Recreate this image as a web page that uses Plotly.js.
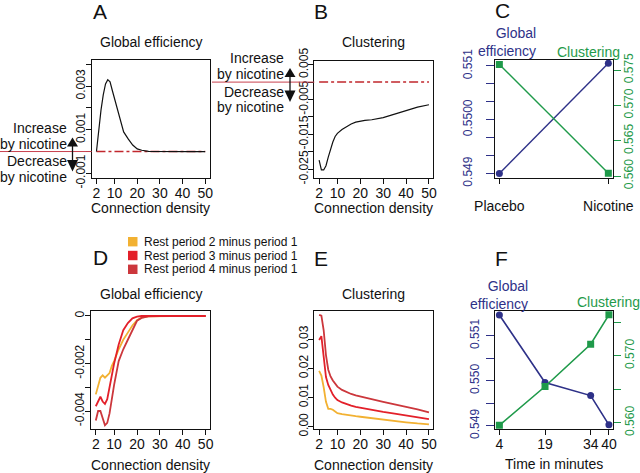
<!DOCTYPE html>
<html>
<head>
<meta charset="utf-8">
<script src="https://cdn.plot.ly/plotly-3.0.1.min.js"></script>
<style>
  body { margin: 0; background: #fff; }
  #fig { width: 640px; height: 473px; }
</style>
</head>
<body>
<div id="fig"></div>
<script>
// connection density (%) used in A, B, D, E
const density = [2, 3, 4, 5, 6, 7, 8, 9, 10, 12, 14, 16, 18, 20, 22, 25, 30, 35, 40, 45, 50];

// A: global efficiency, nicotine minus placebo
const effDiff = [0, 0.0011, 0.0019, 0.0026, 0.0031, 0.0033, 0.0032, 0.0028, 0.0024, 0.0016, 0.0009,
                 0.00058, 0.0003, 0.00012, 0.00006, 0.00001, 0, 0, 0, 0, 0];
// B: clustering, nicotine minus placebo
const clustDiff = [-0.0224, -0.0252, -0.0252, -0.0240, -0.0215, -0.0190, -0.0172, -0.0156, -0.0147, -0.0136, -0.0127,
                   -0.0120, -0.0115, -0.0112, -0.0110, -0.0108, -0.0102, -0.0092, -0.0082, -0.0072, -0.0065];
const zeroX = [2, 50];
const zeroY = [0, 0];

// C: placebo vs nicotine
const conditions = ['Placebo', 'Nicotine'];
const effCond = [0.549, 0.55105];
const clustCond = [0.5758, 0.5604];

// D / E: rest periods minus period 1
const restNames = ['Rest period 2 minus period 1', 'Rest period 3 minus period 1', 'Rest period 4 minus period 1'];
const restColors = ['#F2B132', '#E3202A', '#CC373C'];
const effRest2 = [-0.0033, -0.0029, -0.0026, -0.0025, -0.0026, -0.0025, -0.0024, -0.0021, -0.0019, -0.0014, -0.0010,
                  -0.0007, -0.0004, -0.00018, -0.00007, -0.00002, 0, 0, 0, 0, 0];
const effRest3 = [-0.0038, -0.0036, -0.0034, -0.0036, -0.0037, -0.0035, -0.0030, -0.0025, -0.0020, -0.0012, -0.0006,
                  -0.0003, -0.0001, -0.00003, 0, 0, 0, 0, 0, 0, 0];
const effRest4 = [-0.0044, -0.0040, -0.0040, -0.0043, -0.0046, -0.0045, -0.0041, -0.0035, -0.0029, -0.0019, -0.0014,
                  -0.0010, -0.0006, -0.0002, -0.00008, -0.00002, 0, 0, 0, 0, 0];
const clustRest2 = [0.0191, 0.0175, 0.0135, 0.0085, 0.0061, 0.0061, 0.0058, 0.0051, 0.0046, 0.0043, 0.0040,
                    0.0038, 0.0036, 0.0034, 0.0032, 0.0029, 0.0023, 0.0019, 0.0015, 0.0011, 0.0008];
const clustRest3 = [0.0297, 0.0310, 0.0240, 0.0170, 0.0143, 0.0123, 0.0110, 0.0099, 0.0091, 0.0083, 0.0077,
                    0.0072, 0.0068, 0.0065, 0.0062, 0.0057, 0.0051, 0.0045, 0.0038, 0.0032, 0.0026];
const clustRest4 = [0.0383, 0.0380, 0.0330, 0.0245, 0.0195, 0.0172, 0.0158, 0.0146, 0.0137, 0.0126, 0.0118,
                    0.0112, 0.0107, 0.0103, 0.0099, 0.0094, 0.0085, 0.0076, 0.0068, 0.0059, 0.0049];

// F: over time
const minutes = [4, 19, 34, 40];
const effTime = [0.55146, 0.54996, 0.54967, 0.54902];
const clustTime = [0.5596, 0.5654, 0.5717, 0.5761];

// tick labels
const densityTicks = [2, 10, 20, 30, 40, 50];
const ticksA = [-0.001, 0, 0.001, 0.002, 0.003, 0.004];
const labelsA = ['-0.001', '', '0.001', '', '0.003', ''];
const ticksB = [-0.025, -0.02, -0.015, -0.01, -0.005, 0, 0.005];
const labelsB = ['-0.025', '', '-0.015', '', '-0.005', '', '0.005'];
const ticksCeff = [0.549, 0.549333, 0.549667, 0.55, 0.550333, 0.550667, 0.551];
const labelsCeff = ['0.549', '', '', '0.5500', '', '', '0.551'];
const ticksClust = [0.560, 0.565, 0.570, 0.575];
const labelsCclust = ['0.560', '0.565', '0.570', '0.575'];
const ticksD = [-0.004, -0.003, -0.002, -0.001, 0];
const labelsD = ['-0.004', '', '-0.002', '', '0'];
const ticksE = [0, 0.01, 0.02, 0.03];
const labelsE = ['0.00', '0.01', '0.02', '0.03'];
const ticksFeff = [0.549, 0.5495, 0.55, 0.5505, 0.551];
const labelsFeff = ['0.549', '', '0.550', '', '0.551'];
const labelsFclust = ['0.560', '', '0.570', ''];

const W = 640, H = 473;
const FONT = 'Liberation Sans, Arial, Helvetica, sans-serif';
const NAVY = '#2E3188';
const GREEN = '#1F9A4A';
const RED = '#C1272D';
const px = x => x / W;
const py = y => 1 - y / H;

// plot boxes in pixels
const boxA = { l: 91.7, r: 209.5, t: 60, b: 177.7 };
const boxB = { l: 314.3, r: 433.3, t: 60.5, b: 178.3 };
const boxC = { l: 495, r: 612.7, t: 60, b: 177.7 };
const boxD = { l: 91, r: 210, t: 311, b: 429.3 };
const boxE = { l: 314.3, r: 433.3, t: 311, b: 429.3 };
const boxF = { l: 495, r: 613.3, t: 311, b: 429.3 };

const rangeDensity = [-0.1, 51.9];
const rangeA = [-0.0012, 0.0042];
const rangeB = [-0.0276, 0.0062];

function xAxis(box, anchor, extra) {
  return Object.assign({
    domain: [px(box.l), px(box.r)], anchor: anchor,
    showline: true, mirror: true, linecolor: '#111', linewidth: 1,
    ticks: 'outside', ticklen: 5, tickcolor: '#111', ticklabelstandoff: -3,
    showgrid: false, zeroline: false,
    tickfont: { size: 14, color: '#111' }
  }, extra);
}
function yAxis(box, anchor, extra) {
  return Object.assign({
    domain: [py(box.b), py(box.t)], anchor: anchor,
    showline: true, mirror: true, linecolor: '#111', linewidth: 1,
    ticks: 'outside', ticklen: 5, tickcolor: '#111', tickangle: -90, ticklabelstandoff: -4,
    showgrid: false, zeroline: false,
    tickfont: { size: 12, color: '#111' }
  }, extra);
}

const traces = [
  // A
  { x: zeroX, y: zeroY, xaxis: 'x', yaxis: 'y', mode: 'lines', line: { color: RED, width: 1.5, dash: 'dashdot' } },
  { x: density, y: effDiff, xaxis: 'x', yaxis: 'y', mode: 'lines', line: { color: '#111', width: 1.2 } },
  // B
  { x: zeroX, y: zeroY, xaxis: 'x2', yaxis: 'y2', mode: 'lines', line: { color: RED, width: 1.5, dash: 'dashdot' } },
  { x: density, y: clustDiff, xaxis: 'x2', yaxis: 'y2', mode: 'lines', line: { color: '#111', width: 1.2 } },
  // C
  { x: conditions, y: effCond, xaxis: 'x3', yaxis: 'y3', mode: 'lines+markers',
    line: { color: NAVY, width: 1.4 }, marker: { color: NAVY, size: 7, symbol: 'circle' } },
  { x: conditions, y: clustCond, xaxis: 'x3', yaxis: 'y4', mode: 'lines+markers',
    line: { color: GREEN, width: 1.4 }, marker: { color: GREEN, size: 7, symbol: 'square' } },
  // D
  { x: density, y: effRest2, xaxis: 'x4', yaxis: 'y5', mode: 'lines', line: { color: restColors[0], width: 1.8 } },
  { x: density, y: effRest4, xaxis: 'x4', yaxis: 'y5', mode: 'lines', line: { color: restColors[2], width: 1.8 } },
  { x: density, y: effRest3, xaxis: 'x4', yaxis: 'y5', mode: 'lines', line: { color: restColors[1], width: 1.8 } },
  // E
  { x: density, y: clustRest2, xaxis: 'x5', yaxis: 'y6', mode: 'lines', line: { color: restColors[0], width: 1.8 } },
  { x: density, y: clustRest4, xaxis: 'x5', yaxis: 'y6', mode: 'lines', line: { color: restColors[2], width: 1.8 } },
  { x: density, y: clustRest3, xaxis: 'x5', yaxis: 'y6', mode: 'lines', line: { color: restColors[1], width: 1.8 } },
  // F
  { x: minutes, y: effTime, xaxis: 'x6', yaxis: 'y7', mode: 'lines+markers',
    line: { color: NAVY, width: 1.6 }, marker: { color: NAVY, size: 7, symbol: 'circle' } },
  { x: minutes, y: clustTime, xaxis: 'x6', yaxis: 'y8', mode: 'lines+markers',
    line: { color: GREEN, width: 1.6 }, marker: { color: GREEN, size: 7, symbol: 'square' } }
];

function label(text, x, y, size, opts) {
  return Object.assign({
    text: text, x: px(x), y: py(y), xref: 'paper', yref: 'paper', showarrow: false,
    xanchor: 'center', yanchor: 'middle', font: { size: size, color: '#111' }
  }, opts);
}

// pixel y of value 0 in A and B, for the keys outside the boxes
const zeroPixA = boxA.t + rangeA[1] / (rangeA[1] - rangeA[0]) * (boxA.b - boxA.t);
const zeroPixB = boxB.t + rangeB[1] / (rangeB[1] - rangeB[0]) * (boxB.b - boxB.t);

const annotations = [
  label('A', 100, 11, 21), label('B', 321, 11, 21), label('C', 502, 10, 21),
  label('D', 100, 257, 21), label('E', 321, 258, 21), label('F', 501, 258, 21),
  label('Global efficiency', 150.5, 42, 14), label('Clustering', 373.5, 42, 14),
  label('Global efficiency', 150.5, 293.5, 14), label('Clustering', 373.5, 293.5, 14),
  label('Connection density', 150.5, 208, 14), label('Connection density', 373.5, 208, 14),
  label('Connection density', 150.5, 465, 14), label('Connection density', 373.5, 465, 14),
  label('Time in minutes', 554, 464, 14),
  label('Global<br>efficiency', 538, 41.5, 14, { xanchor: 'right', align: 'right', font: { size: 14, color: NAVY } }),
  label('Clustering', 588, 51.5, 14, { font: { size: 14, color: GREEN } }),
  label('Global<br>efficiency', 530, 295, 14, { xanchor: 'right', align: 'right', font: { size: 14, color: NAVY } }),
  label('Clustering', 608.5, 302, 14, { font: { size: 14, color: GREEN } })
];

const shapes = [];
// "increase / decrease by nicotine" keys for A and B
[[zeroPixA, 0, boxA.l, 72.5, 68.5], [zeroPixB, 212, boxB.l, 290, 285.5]].forEach(([zy, x0, x1, ax, tr]) => {
  shapes.push({ type: 'line', xref: 'paper', yref: 'paper', x0: px(x0), x1: px(x1), y0: py(zy), y1: py(zy),
                line: { color: '#C8404E', width: 1 } });
  shapes.push({ type: 'line', xref: 'paper', yref: 'paper', x0: px(ax), x1: px(ax), y0: py(zy - 6), y1: py(zy + 10),
                line: { color: '#111', width: 1.3 } });
  shapes.push({ type: 'path', xref: 'paper', yref: 'paper', fillcolor: '#111', line: { width: 0 },
                path: `M ${px(ax - 5.5)},${py(zy - 5)} L ${px(ax + 5.5)},${py(zy - 5)} L ${px(ax)},${py(zy - 14)} Z` });
  shapes.push({ type: 'path', xref: 'paper', yref: 'paper', fillcolor: '#111', line: { width: 0 },
                path: `M ${px(ax - 5.5)},${py(zy + 8.5)} L ${px(ax + 5.5)},${py(zy + 8.5)} L ${px(ax)},${py(zy + 20)} Z` });
  annotations.push(label('Increase', tr, zy - 24, 14, { xanchor: 'right' }));
  annotations.push(label('by nicotine', tr, zy - 8, 14, { xanchor: 'right' }));
  annotations.push(label('Decrease', tr, zy + 9.5, 14, { xanchor: 'right' }));
  annotations.push(label('by nicotine', tr, zy + 25, 14, { xanchor: 'right' }));
});

// legend for D and E
restNames.forEach((name, i) => {
  const yc = 241.7 + i * 13.8;
  shapes.push({ type: 'rect', xref: 'paper', yref: 'paper', x0: px(128), x1: px(137.5), y0: py(yc + 4.7), y1: py(yc - 4.7),
                fillcolor: restColors[i], line: { width: 0 } });
  annotations.push(label(name, 142, yc, 12, { xanchor: 'left' }));
});

const greenAxis = (range, ticktext) => ({
  range: range, tickvals: ticksClust, ticktext: ticktext, tickangle: -90,
  ticks: 'outside', ticklen: 7, tickcolor: GREEN, showline: false, ticklabelstandoff: -2,
  showgrid: false, zeroline: false, tickfont: { size: 12, color: GREEN }
});

const layout = {
  width: W, height: H,
  margin: { l: 0, r: 0, t: 0, b: 0 },
  paper_bgcolor: '#fff', plot_bgcolor: '#fff',
  font: { family: FONT, color: '#111' },
  showlegend: false,
  xaxis: xAxis(boxA, 'y', { range: rangeDensity, tickvals: densityTicks }),
  yaxis: yAxis(boxA, 'x', { range: rangeA, tickvals: ticksA, ticktext: labelsA }),
  xaxis2: xAxis(boxB, 'y2', { range: rangeDensity, tickvals: densityTicks }),
  yaxis2: yAxis(boxB, 'x2', { range: rangeB, tickvals: ticksB, ticktext: labelsB }),
  xaxis3: xAxis(boxC, 'y3', { type: 'category', range: [-0.04, 1.04], ticklabelstandoff: 10 }),
  yaxis3: yAxis(boxC, 'x3', { range: [0.54892, 0.55111], tickvals: ticksCeff, ticktext: labelsCeff, ticklen: 8,
                              ticklabelstandoff: 9, tickcolor: NAVY, tickfont: { size: 12, color: NAVY } }),
  yaxis4: Object.assign({ overlaying: 'y3', anchor: 'x3', side: 'right' }, greenAxis([0.55976, 0.57642], labelsCclust)),
  xaxis4: xAxis(boxD, 'y5', { range: rangeDensity, tickvals: densityTicks }),
  yaxis5: yAxis(boxD, 'x4', { range: [-0.00477, 0.00021], tickvals: ticksD, ticktext: labelsD }),
  xaxis5: xAxis(boxE, 'y6', { range: rangeDensity, tickvals: densityTicks }),
  yaxis6: yAxis(boxE, 'x5', { range: [-0.0009, 0.0396], tickvals: ticksE, ticktext: labelsE }),
  xaxis6: xAxis(boxF, 'y7', { range: [2.56, 41.44], tickvals: minutes }),
  yaxis7: yAxis(boxF, 'x6', { range: [0.54892, 0.55155], tickvals: ticksFeff, ticktext: labelsFeff, ticklen: 8,
                              ticklabelstandoff: 2, tickcolor: NAVY, tickfont: { size: 12, color: NAVY } }),
  yaxis8: Object.assign({ overlaying: 'y7', anchor: 'x6', side: 'right' }, greenAxis([0.55901, 0.57667], labelsFclust)),
  annotations: annotations,
  shapes: shapes
};

Plotly.newPlot('fig', traces, layout, { staticPlot: true });
</script>
</body>
</html>
